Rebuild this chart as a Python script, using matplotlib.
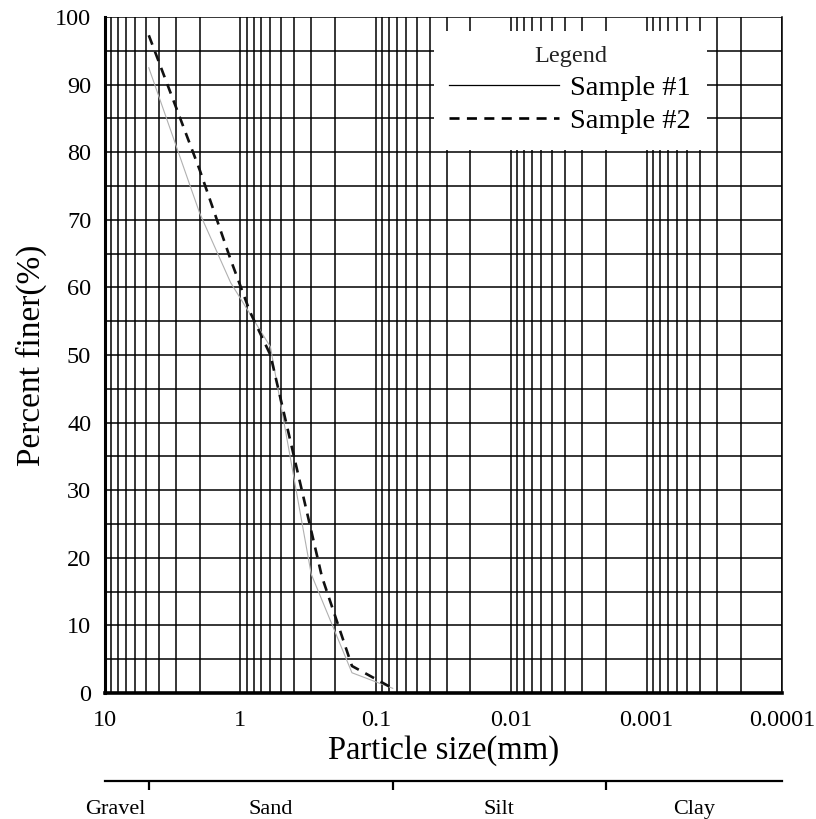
import numpy as np
import matplotlib
matplotlib.use("Agg")
import matplotlib.pyplot as plt
from matplotlib.ticker import LogLocator, MultipleLocator, NullFormatter, FixedLocator
from matplotlib.lines import Line2D

# sieve data (size in mm, percent finer)
sample1_size = [4.75, 2.0, 1.18, 0.6, 0.3, 0.15, 0.075]
sample1_finer = [92.5, 71.0, 60.7, 51.2, 17.6, 3.0, 0.7]

sample2_size = [4.75, 2.0, 1.18, 0.85, 0.6, 0.25, 0.15, 0.075]
sample2_finer = [97.3, 77.4, 64.1, 56.4, 50.0, 17.2, 4.0, 0.7]

x_ticks = [10, 1, 0.1, 0.01, 0.001, 0.0001]
x_tick_labels = ["10", "1", "0.1", "0.01", "0.001", "0.0001"]
y_ticks = [0, 10, 20, 30, 40, 50, 60, 70, 80, 90, 100]

# soil classes along the bottom bar
class_bounds = [10, 4.75, 0.075, 0.002, 0.0001]
class_names = ["Gravel", "Sand", "Silt", "Clay"]

plt.rcParams['font.family'] = ['Liberation Serif', 'DejaVu Serif']


def draw_main(fig):
    ax = fig.add_axes([0.1287, 0.1538, 0.8296, 0.8254])
    ax.set_xscale("log")
    ax.set_xlim(10, 0.0001)
    ax.set_ylim(0, 100)

    # grid: every log sub-division and every 5 percent
    ax.xaxis.set_major_locator(FixedLocator(x_ticks))
    ax.set_xticklabels(x_tick_labels)
    ax.xaxis.set_minor_locator(LogLocator(base=10, subs=np.arange(2, 10)))
    ax.xaxis.set_minor_formatter(NullFormatter())
    ax.set_yticks(y_ticks)
    ax.yaxis.set_minor_locator(MultipleLocator(5))
    ax.grid(which="both", color="black", linewidth=1.1)
    ax.tick_params(which="both", length=0, labelsize=17.5)
    ax.tick_params(axis="x", pad=12)
    ax.tick_params(axis="y", pad=10)

    ax.spines["top"].set_visible(False)
    ax.spines["right"].set_linewidth(1.1)
    ax.spines["left"].set_linewidth(2.2)
    ax.spines["bottom"].set_linewidth(2.6)

    ax.plot(sample1_size, sample1_finer, color="#b0b0b0", linewidth=0.8)
    ax.plot(sample2_size, sample2_finer, color="#111111", linewidth=1.9,
            linestyle=(0, (3.8, 2.8)))

    ax.set_xlabel("Particle size(mm)", fontsize=23.5, labelpad=3)
    ax.set_ylabel("Percent finer(%)", fontsize=24, labelpad=6)

    handles = [
        Line2D([], [], color="black", linewidth=0.9),
        Line2D([], [], color="black", linewidth=1.9, linestyle=(0, (3.8, 2.8))),
    ]
    leg = ax.legend(handles, ["Sample #1", "Sample #2"], title="Legend",
                    loc="upper right", bbox_to_anchor=(0.889, 0.980),
                    borderaxespad=0, borderpad=0.55, fontsize=20.5,
                    title_fontsize=17.5, handlelength=3.85, handletextpad=0.4,
                    labelspacing=0.27, frameon=True, fancybox=False,
                    framealpha=1, facecolor="white", edgecolor="none")
    leg.get_title().set_color("#222222")
    return ax


def draw_classes(fig):
    cx = fig.add_axes([0.1287, 0.0, 0.8296, 0.0464])
    cx.set_xscale("log")
    cx.set_xlim(10, 0.0001)
    cx.set_ylim(0, 1)
    for side in ["left", "right", "bottom"]:
        cx.spines[side].set_visible(False)
    cx.spines["top"].set_linewidth(1.6)
    cx.set_xticks([])
    cx.set_yticks([])
    cx.minorticks_off()
    cx.patch.set_alpha(0)

    # little downward marks at the class boundaries
    cx.vlines(class_bounds[1:-1], 0.76, 1.0, color="black", linewidth=1.6)

    for i, name in enumerate(class_names):
        lo, hi = class_bounds[i], class_bounds[i + 1]
        if i == 0:
            cx.text(hi * 1.05, 0.26, name, ha="right", va="center", fontsize=16)
        else:
            mid = np.sqrt(lo * hi)
            cx.text(mid, 0.26, name, ha="center", va="center", fontsize=16)


fig = plt.figure(figsize=(8.16, 8.19), dpi=100)
draw_main(fig)
draw_classes(fig)
fig.savefig("out.png", dpi=100)
